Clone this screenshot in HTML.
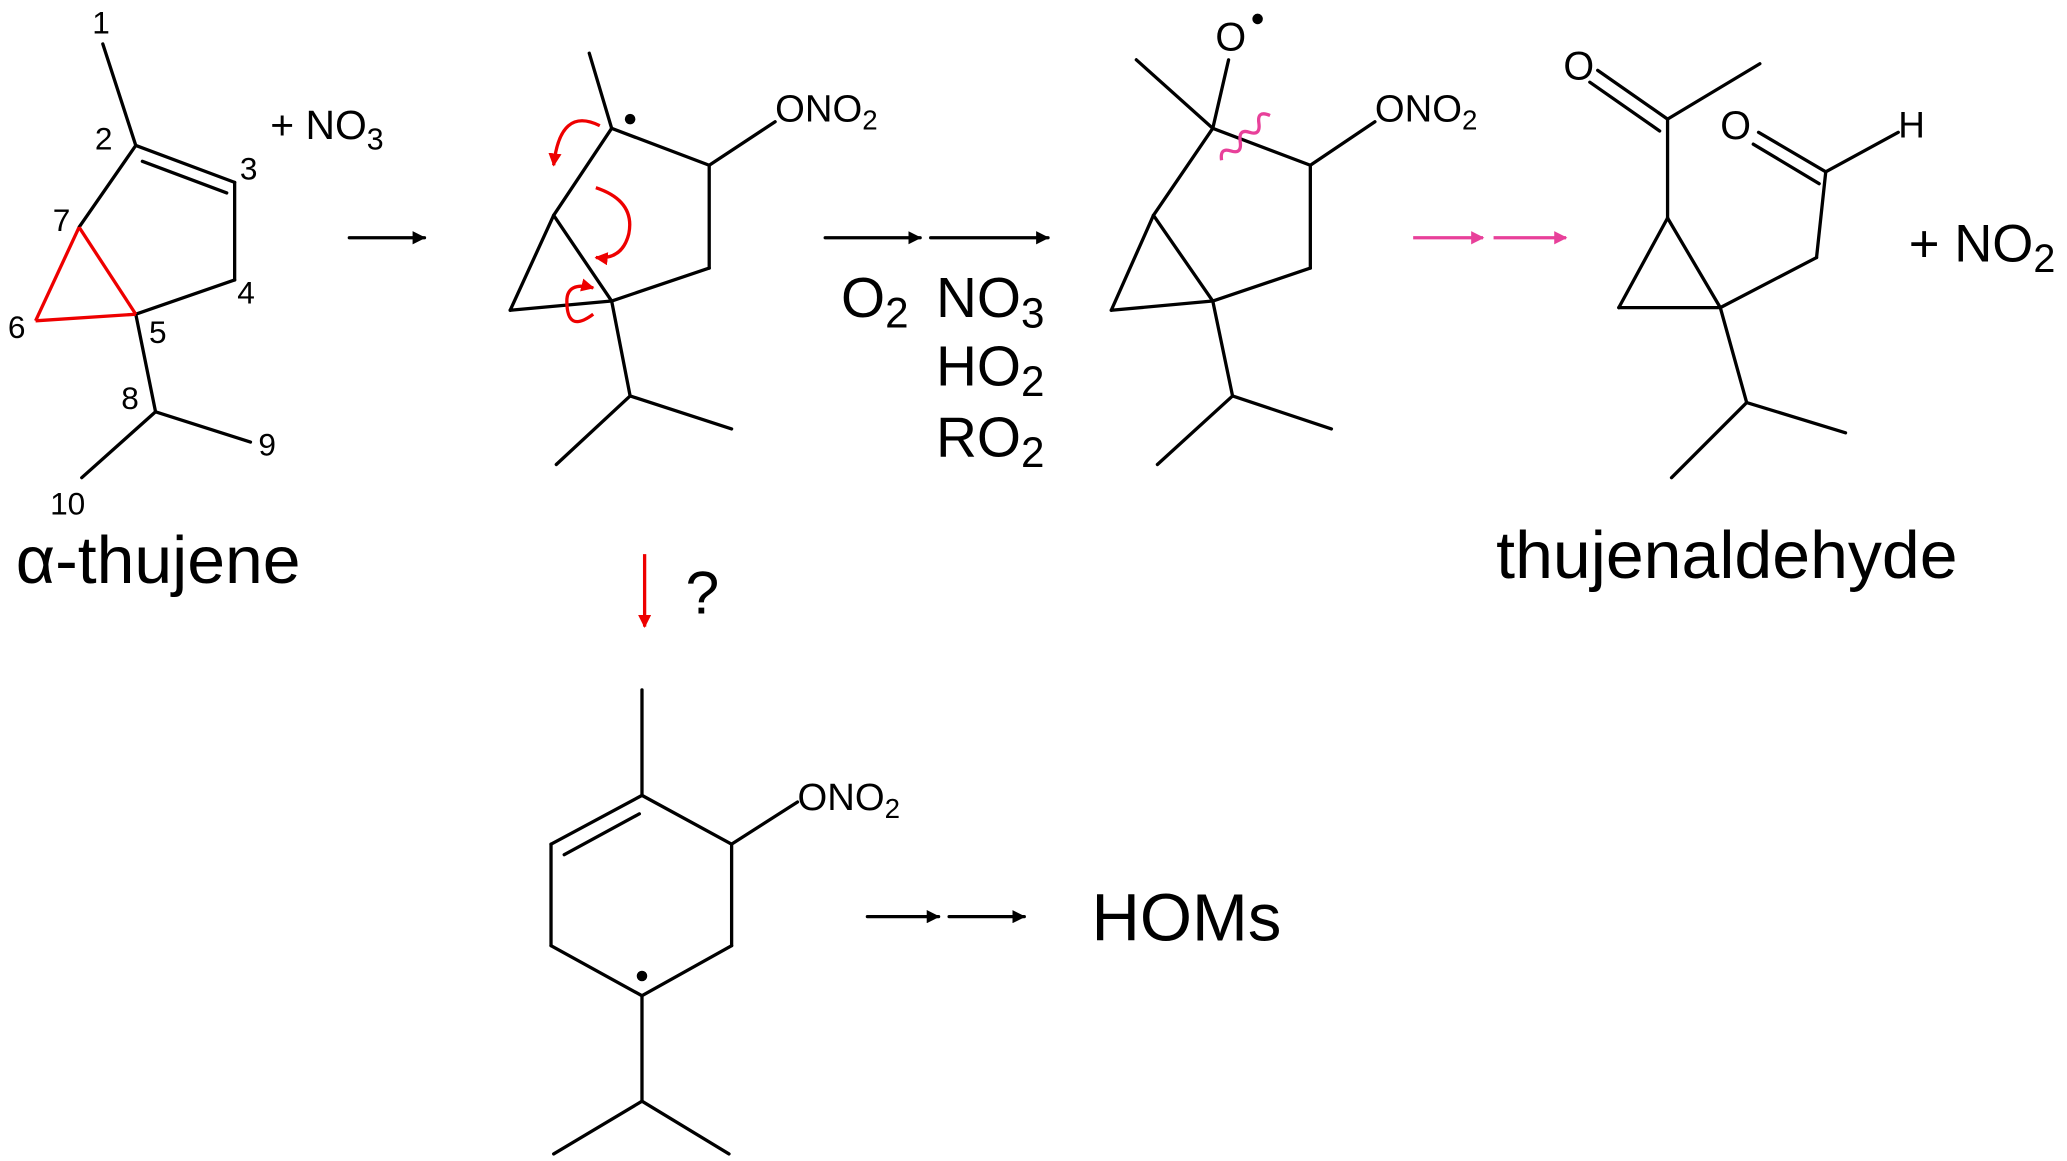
<!DOCTYPE html>
<html><head><meta charset="utf-8"><style>
html,body{margin:0;padding:0;background:#fff;}
svg{display:block;}
text{font-family:"Liberation Sans",Arial,sans-serif;fill:#000;}
</style></head><body>
<svg width="2067" height="1161" viewBox="0 0 1568 880" xmlns="http://www.w3.org/2000/svg">
<defs>
<marker id="ab" markerWidth="10" markerHeight="10" refX="9" refY="5" orient="auto" markerUnits="userSpaceOnUse"><path d="M0,0 L10,5 L0,10 z" fill="#000"/></marker>
<marker id="ap" markerWidth="10" markerHeight="10" refX="9" refY="5" orient="auto" markerUnits="userSpaceOnUse"><path d="M0,0 L10,5 L0,10 z" fill="#e8409a"/></marker>
<marker id="ar" markerWidth="10" markerHeight="10" refX="9" refY="5" orient="auto" markerUnits="userSpaceOnUse"><path d="M0,0 L10,5 L0,10 z" fill="#e00"/></marker>
</defs>
<g stroke="#000" stroke-width="2.5" fill="none" stroke-linecap="round">
<line x1="78" y1="33" x2="103" y2="110"/>
<line x1="103" y1="110" x2="178" y2="138"/>
<line x1="108" y1="122" x2="172" y2="146"/>
<line x1="178" y1="138" x2="178" y2="212"/>
<line x1="178" y1="212" x2="103" y2="238"/>
<line x1="103" y1="110" x2="60" y2="172"/>
<line x1="103" y1="238" x2="118" y2="312"/>
<line x1="118" y1="312" x2="190" y2="335"/>
<line x1="118" y1="312" x2="62" y2="362"/>
<line x1="447" y1="40" x2="464" y2="97"/>
<line x1="464" y1="97" x2="538" y2="125"/>
<line x1="538" y1="125" x2="538" y2="203"/>
<line x1="538" y1="203" x2="464" y2="228"/>
<line x1="420" y1="163" x2="464" y2="97"/>
<line x1="420" y1="163" x2="387" y2="235"/>
<line x1="387" y1="235" x2="464" y2="228"/>
<line x1="420" y1="163" x2="464" y2="228"/>
<line x1="464" y1="228" x2="478" y2="300"/>
<line x1="478" y1="300" x2="555" y2="325"/>
<line x1="478" y1="300" x2="422" y2="352"/>
<line x1="538" y1="125" x2="588" y2="92"/>
<line x1="862" y1="45" x2="920" y2="97"/>
<line x1="920" y1="97" x2="932" y2="45"/>
<line x1="920" y1="97" x2="994" y2="125"/>
<line x1="994" y1="125" x2="1043" y2="92"/>
<line x1="994" y1="125" x2="994" y2="203"/>
<line x1="994" y1="203" x2="920" y2="228"/>
<line x1="875" y1="163" x2="920" y2="97"/>
<line x1="875" y1="163" x2="843" y2="235"/>
<line x1="843" y1="235" x2="920" y2="228"/>
<line x1="875" y1="163" x2="920" y2="228"/>
<line x1="920" y1="228" x2="935" y2="300"/>
<line x1="935" y1="300" x2="1010" y2="325"/>
<line x1="935" y1="300" x2="878" y2="352"/>
<line x1="1212" y1="53" x2="1265" y2="90"/>
<line x1="1206" y1="62" x2="1259" y2="99"/>
<line x1="1265" y1="90" x2="1335" y2="48"/>
<line x1="1265" y1="90" x2="1265" y2="165"/>
<line x1="1265" y1="165" x2="1228" y2="233"/>
<line x1="1228" y1="233" x2="1305" y2="233"/>
<line x1="1265" y1="165" x2="1305" y2="233"/>
<line x1="1305" y1="233" x2="1325" y2="305"/>
<line x1="1325" y1="305" x2="1400" y2="328"/>
<line x1="1325" y1="305" x2="1268" y2="362"/>
<line x1="1305" y1="233" x2="1378" y2="195"/>
<line x1="1378" y1="195" x2="1385" y2="130"/>
<line x1="1385" y1="130" x2="1440" y2="100"/>
<line x1="1334" y1="100" x2="1385" y2="130"/>
<line x1="1330" y1="109" x2="1380" y2="139"/>
<line x1="487" y1="523" x2="487" y2="603"/>
<line x1="487" y1="603" x2="555" y2="640"/>
<line x1="555" y1="640" x2="555" y2="717"/>
<line x1="555" y1="717" x2="487" y2="755"/>
<line x1="487" y1="755" x2="418" y2="717"/>
<line x1="418" y1="717" x2="418" y2="640"/>
<line x1="418" y1="640" x2="487" y2="603"/>
<line x1="428" y1="648" x2="485" y2="617"/>
<line x1="555" y1="640" x2="605" y2="608"/>
<line x1="487" y1="755" x2="487" y2="835"/>
<line x1="487" y1="835" x2="553" y2="875"/>
<line x1="487" y1="835" x2="420" y2="875"/>
<line x1="265" y1="180" x2="322" y2="180" marker-end="url(#ab)"/>
<line x1="626" y1="180" x2="698" y2="180" marker-end="url(#ab)"/>
<line x1="706" y1="180" x2="795" y2="180" marker-end="url(#ab)"/>
<line x1="658" y1="695" x2="712" y2="695" marker-end="url(#ab)"/>
<line x1="720" y1="695" x2="777" y2="695" marker-end="url(#ab)"/>
</g>
<g stroke="#e8409a" stroke-width="2.5" fill="none">
<line x1="1072" y1="180" x2="1125" y2="180" marker-end="url(#ap)"/>
<line x1="1133" y1="180" x2="1188" y2="180" marker-end="url(#ap)"/>
<path d="M940,135 q-8,-6 0,-10 q8,-4 0,-10 q-8,-6 0,-10 q8,-4 0,-10 q-8,-6 2,-10" transform="rotate(45 950 112)"/>
</g>
<g stroke="#e00" stroke-width="2.5" fill="none">
<line x1="103" y1="238" x2="60" y2="172"/>
<line x1="60" y1="172" x2="27" y2="243"/>
<line x1="27" y1="243" x2="103" y2="238"/>
<line x1="489" y1="420" x2="489" y2="475" marker-end="url(#ar)"/>
<path d="M455,95 q-30,-15 -35,30" marker-end="url(#ar)"/>
<path d="M452,142 q30,10 25,35 q-5,20 -25,18" marker-end="url(#ar)"/>
<path d="M450,238 q-20,15 -20,-10 q0,-15 20,-10" marker-end="url(#ar)"/>
</g>
<circle cx="478" cy="90" r="4" fill="#000"/>
<circle cx="487" cy="740" r="4" fill="#000"/>
<circle cx="954" cy="14" r="4" fill="#000"/>
<g font-size="24">
<text x="70" y="25">1</text>
<text x="72" y="113">2</text>
<text x="182" y="136">3</text>
<text x="180" y="230">4</text>
<text x="113" y="260">5</text>
<text x="6" y="256">6</text>
<text x="40" y="175">7</text>
<text x="92" y="310">8</text>
<text x="196" y="345">9</text>
<text x="38" y="390">10</text>
</g>
<text x="205" y="105" font-size="31">+ NO<tspan font-size="23" dy="8">3</tspan></text>
<text x="12" y="442" font-size="51" textLength="216" lengthAdjust="spacingAndGlyphs">α-thujene</text>
<text x="588" y="92" font-size="29">ONO<tspan font-size="21" dy="6">2</tspan></text>
<text x="1043" y="92" font-size="29">ONO<tspan font-size="21" dy="6">2</tspan></text>
<text x="605" y="614" font-size="29">ONO<tspan font-size="21" dy="6">2</tspan></text>
<text x="922" y="38" font-size="30">O</text>
<text x="1186" y="60" font-size="30">O</text>
<text x="1305" y="105" font-size="30">O</text>
<text x="1440" y="104" font-size="28">H</text>
<text x="1448" y="198" font-size="40">+ NO<tspan font-size="30" dy="8">2</tspan></text>
<text x="638" y="240" font-size="43">O<tspan font-size="32" dy="8">2</tspan></text>
<text x="710" y="240" font-size="43">NO<tspan font-size="32" dy="8">3</tspan></text>
<text x="710" y="292" font-size="43">HO<tspan font-size="32" dy="8">2</tspan></text>
<text x="710" y="346" font-size="43">RO<tspan font-size="32" dy="8">2</tspan></text>
<text x="520" y="465" font-size="46">?</text>
<text x="828" y="713" font-size="51" textLength="144" lengthAdjust="spacingAndGlyphs">HOMs</text>
<text x="1135" y="438" font-size="51" textLength="350" lengthAdjust="spacingAndGlyphs">thujenaldehyde</text>
</svg>
</body></html>
